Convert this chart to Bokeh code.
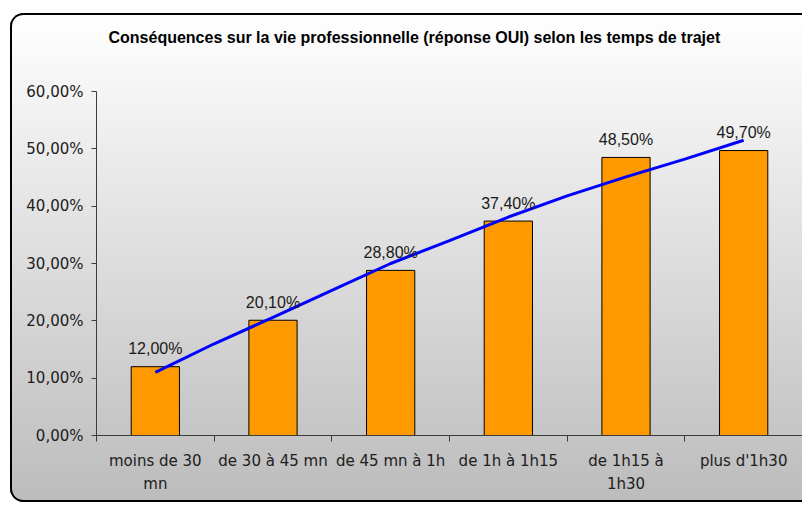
from bokeh.plotting import figure
from bokeh.models import Range1d, FixedTicker, Title
from bokeh.embed import file_html
from bokeh.resources import INLINE
from bokeh.core.properties import value

title_text = "Conséquences sur la vie professionnelle (réponse OUI) selon les temps de trajet"
categories = ["moins de 30\nmn", "de 30 à 45 mn", "de 45 mn à 1h", "de 1h à 1h15",
              "de 1h15 à\n1h30", "plus d'1h30"]
values = [12.0, 20.1, 28.8, 37.4, 48.5, 49.7]
bar_labels = ["12,00%", "20,10%", "28,80%", "37,40%", "48,50%", "49,70%"]
y_ticks = [0, 10, 20, 30, 40, 50, 60]
y_tick_labels = ["0,00%", "10,00%", "20,00%", "30,00%", "40,00%", "50,00%", "60,00%"]
# trend line (category position 1..6, value in %)
trend_pos = [1, 1.5, 2, 2.5, 3, 3.5, 4, 4.5, 5, 5.5, 6]
trend_vals = [11.0, 16.0, 20.6, 25.3, 30.0, 34.0, 38.1, 41.8, 45.1, 48.2, 51.5]

n = len(categories)
centers = [i + 0.5 for i in range(n)]
bounds = list(range(n + 1))
trend_x = [t - 0.5 for t in trend_pos]

p = figure(width=792, height=489, x_range=Range1d(0, n), y_range=Range1d(0, 60),
           output_backend="svg", toolbar_location=None, title=None,
           min_border_left=86, min_border_right=0, min_border_top=78, min_border_bottom=67)
p.styles = {
    "position": "relative", "top": "13px", "left": "10px",
    "background": "linear-gradient(to bottom, #ffffff 0%, #bcbcbc 100%)",
    "border-radius": "14px 0 0 14px",
    "box-shadow": "inset 2px 0 0 #000, inset 0 2px 0 #000, inset 0 -2px 0 #000",
}
p.border_fill_color = None
p.background_fill_color = None
p.outline_line_color = None
p.grid.grid_line_color = None

# spacer between frame and title (closest to the frame)
p.add_layout(Title(text=" ", text_font_size="12px", standoff=13), "above")
p.add_layout(Title(text=title_text, align="left", offset=12, vertical_align="top",
                   standoff=30,
                   text_font="Liberation Sans", text_font_style="bold",
                   text_font_size="16px", text_color="#000000"), "above")

p.vbar(x=centers, top=values, width=0.41, bottom=0,
       fill_color="#FF9900", line_color="#000000", line_width=1)
p.line(x=trend_x, y=trend_vals, line_color="#0000FF", line_width=3)
p.text(x=centers, y=values, text=bar_labels, text_align="center",
       text_baseline="alphabetic", y_offset=-18,
       text_font=value("Liberation Sans"), text_font_size="16px", text_color="#1a1a1a")

ax = p.xaxis[0]
ax.ticker = FixedTicker(ticks=centers, minor_ticks=bounds)
ax.major_label_overrides = {c: lab for c, lab in zip(centers, categories)}
ax.major_tick_line_color = None
ax.major_tick_out = 0
ax.major_tick_in = 0
ax.minor_tick_in = 0
ax.minor_tick_out = 6
ax.minor_tick_line_color = "#3c3c3c"
ax.axis_line_color = "#3c3c3c"
ax.major_label_standoff = 10
ax.major_label_text_font = "DejaVu Sans"
ax.major_label_text_font_size = "15px"
ax.major_label_text_color = "#202020"
ax.major_label_text_line_height = 1.3

ay = p.yaxis[0]
ay.ticker = FixedTicker(ticks=y_ticks)
ay.major_label_overrides = {t: lab for t, lab in zip(y_ticks, y_tick_labels)}
ay.minor_tick_line_color = None
ay.major_tick_in = 0
ay.major_tick_out = 5
ay.major_tick_line_color = "#3c3c3c"
ay.axis_line_color = "#3c3c3c"
ay.major_label_standoff = 8
ay.major_label_text_font = "DejaVu Sans"
ay.major_label_text_font_size = "15px"
ay.major_label_text_color = "#202020"

open("out.html", "w").write(file_html(p, INLINE))
